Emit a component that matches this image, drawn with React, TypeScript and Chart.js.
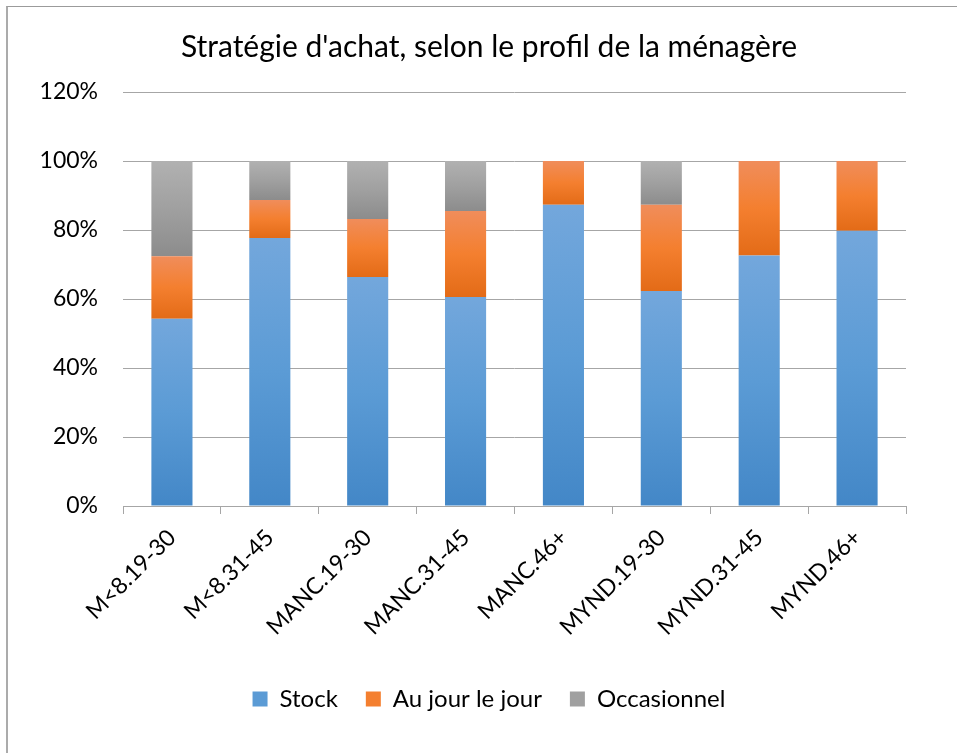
import React, { useEffect, useRef } from 'react';
import { Chart, registerables } from 'chart.js';

Chart.register(...registerables);

const categories = ['M<8.19-30', 'M<8.31-45', 'MANC.19-30', 'MANC.31-45', 'MANC.46+', 'MYND.19-30', 'MYND.31-45', 'MYND.46+'];
const stock = [54.3, 77.7, 66.4, 60.6, 87.3, 62.3, 72.6, 79.8];
const auJourLeJour = [18.1, 11.0, 16.8, 24.9, 12.7, 25.0, 27.4, 20.2];
const occasionnel = [27.6, 11.3, 16.8, 14.5, 0, 12.7, 0, 0];
const seriesNames = ['Stock', 'Au jour le jour', 'Occasionnel'];
const yTicks = [0, 20, 40, 60, 80, 100, 120];
const titleText = "Stratégie d'achat, selon le profil de la ménagère";

const seriesList = [stock, auJourLeJour, occasionnel];
const palettes = [
  ['#73a7dc', '#5b9bd5', '#4387c7'],
  ['#f08d5b', '#f47f2f', '#e36b17'],
  ['#b1b1b1', '#a0a0a0', '#8c8c8c'],
];
const legendColors = ['#5b9bd5', '#f47f2f', '#a0a0a0'];

const FONT = 'Lato, "Open Sans", sans-serif';

function makeFill(dsIndex: number) {
  return (ctx: any) => {
    const chart = ctx.chart;
    const y = chart.scales && chart.scales.y;
    const [c0, c1, c2] = palettes[dsIndex];
    if (ctx.type !== 'data' || !y || !isFinite(y.top) || y.bottom - y.top < 10) return c1;
    const i = ctx.dataIndex;
    let start = 0;
    for (let d = 0; d < dsIndex; d++) start += seriesList[d][i];
    const end = start + seriesList[dsIndex][i];
    const yTop = y.getPixelForValue(end);
    const yBot = y.getPixelForValue(start);
    if (!(yBot - yTop > 0.5)) return c1;
    const g = chart.ctx.createLinearGradient(0, yTop, 0, yBot);
    g.addColorStop(0, c0);
    g.addColorStop(0.5, c1);
    g.addColorStop(1, c2);
    return g;
  };
}

export default function App() {
  const canvasRef = useRef<HTMLCanvasElement | null>(null);

  useEffect(() => {
    const canvas = canvasRef.current;
    if (!canvas) return;
    const chart = new Chart(canvas, {
      type: 'bar',
      data: {
        labels: categories,
        datasets: seriesList.map((values, k) => ({
          label: seriesNames[k],
          data: values,
          backgroundColor: makeFill(k),
          borderWidth: 0,
          barPercentage: 0.42,
          categoryPercentage: 1,
          yAxisID: 'y',
        })),
      },
      options: {
        animation: false,
        responsive: true,
        maintainAspectRatio: false,
        devicePixelRatio: 1,
        layout: { padding: { top: 8, left: 0, right: 18, bottom: 32 } },
        plugins: {
          tooltip: { enabled: false },
          title: {
            display: true,
            text: titleText,
            color: '#000',
            font: { family: FONT, size: 30, weight: 'normal', lineHeight: 1.2 },
            padding: { top: 14.2, bottom: 26.8 },
          },
          legend: {
            display: true,
            position: 'bottom',
            labels: {
              color: '#000',
              font: { family: FONT, size: 24 },
              boxWidth: 15,
              boxHeight: 15,
              padding: 28,
              generateLabels: () =>
                seriesNames.map((n, k) => ({
                  text: n,
                  fillStyle: legendColors[k],
                  strokeStyle: legendColors[k],
                  lineWidth: 0,
                  hidden: false,
                  datasetIndex: k,
                })),
            },
          },
        },
        scales: {
          x: {
            stacked: true,
            offset: true,
            grid: {
              display: true,
              drawOnChartArea: false,
              drawTicks: true,
              tickLength: 8,
              color: '#a6a6a6',
              offset: true,
            },
            border: { display: true, color: '#a6a6a6', width: 1 },
            ticks: {
              color: '#000',
              font: { family: FONT, size: 23 },
              minRotation: 45,
              maxRotation: 45,
              autoSkip: false,
              padding: 10,
            },
            afterFit: (scale: any) => {
              scale.height = 153;
            },
          },
          y: {
            stacked: true,
            position: 'left',
            min: 0,
            max: 120,
            grid: { color: '#a6a6a6', drawTicks: false, lineWidth: 1 },
            border: { display: false },
            ticks: {
              color: '#000',
              font: { family: FONT, size: 23 },
              padding: 25,
              callback: (v: any) => v + '%',
            },
            afterBuildTicks: (scale: any) => {
              scale.ticks = yTicks.map((v) => ({ value: v }));
            },
            afterFit: (scale: any) => {
              scale.width = 115;
            },
          },
          yRight: {
            type: 'linear',
            position: 'right',
            display: true,
            grid: { display: false, drawTicks: false },
            border: { display: false },
            ticks: { display: false },
            afterFit: (scale: any) => {
              scale.width = 64;
            },
          },
        },
      },
    });
    return () => chart.destroy();
  }, []);

  return (
    <div style={{ position: 'fixed', left: 0, top: 0, right: 0, bottom: 0, overflow: 'hidden', background: '#fff' }}>
      <div
        style={{
          position: 'absolute',
          left: 6,
          top: 6,
          width: 1000,
          height: 800,
          borderLeft: '2px solid #ababab',
          borderTop: '1px solid #9b9b9b',
        }}
      >
        <div style={{ position: 'relative', width: 980, height: 746 }}>
          <canvas ref={canvasRef} />
        </div>
      </div>
    </div>
  );
}
